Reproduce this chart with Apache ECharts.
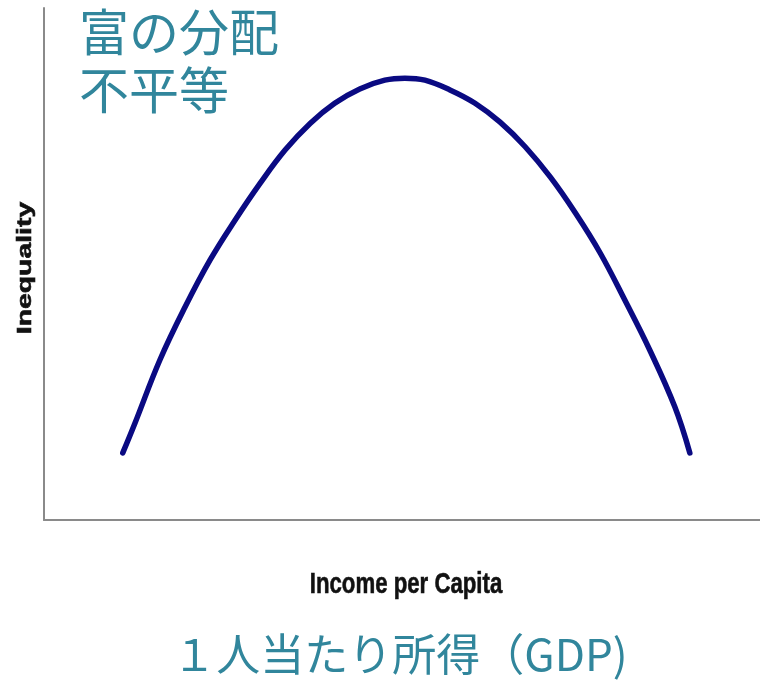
<!DOCTYPE html>
<html>
<head>
<meta charset="utf-8">
<script src="https://cdn.jsdelivr.net/npm/echarts@6/dist/echarts.min.js"></script>
<style>
  html, body { margin: 0; padding: 0; background: #fff; }
  #chart { width: 760px; height: 682px; }
</style>
</head>
<body>
<div id="chart"></div>
<script>
// Kuznets curve (x: income 0-100, y: inequality 0-100)
const incomeX = [11.0, 12.7, 16.2, 19.7, 23.2, 26.7, 30.2, 33.7, 37.2, 40.6, 44.1, 47.6, 50.4,
                 53.2, 56.7, 60.2, 63.7, 67.2, 70.7, 74.2, 77.7, 81.1, 84.6, 88.1, 90.2];
const inequalityY = [13.1, 18.9, 31.3, 41.6, 50.8, 58.6, 65.8, 72.3, 77.5, 81.4, 84.2, 85.9, 86.3,
                     85.9, 84.0, 81.4, 77.7, 72.9, 67.0, 60.0, 52.1, 43.0, 33.2, 22.1, 13.1];

const titleJa = ['富の分配', '不平等'];
const xNameJa = '１人当たり所得（GDP)';
const xName = 'Income per Capita';
const yName = 'Inequality';

const teal = '#31869c';
const cjk = '"Noto Sans CJK JP", "Noto Sans CJK SC", sans-serif';

const chart = echarts.init(document.getElementById('chart'));
const points = incomeX.map((x, i) => [x, inequalityY[i]]);

chart.setOption({
  animation: false,
  backgroundColor: '#fff',
  grid: { left: 44, right: 0, top: 8, bottom: 162 },
  xAxis: {
    type: 'value', min: 0, max: 100,
    axisLine: { show: true, lineStyle: { color: '#8a8a8a', width: 2 } },
    axisTick: { show: false }, axisLabel: { show: false }, splitLine: { show: false }
  },
  yAxis: {
    type: 'value', min: 0, max: 100,
    axisLine: { show: true, lineStyle: { color: '#8a8a8a', width: 2 } },
    axisTick: { show: false }, axisLabel: { show: false }, splitLine: { show: false }
  },
  series: [{
    type: 'line',
    data: points,
    smooth: 0.4,
    symbol: 'none',
    lineStyle: { color: '#0a0a82', width: 5.5, cap: 'round' }
  }],
  graphic: [
    {
      type: 'text', left: 79, top: 3,
      style: { text: titleJa.join('\n'), fill: teal, font: '50px ' + cjk, lineHeight: 58 }
    },
    {
      type: 'text', x: 406, y: 585,
      scaleX: 0.74,
      style: { text: xName, fill: '#111', stroke: '#111', lineWidth: 0.6, font: 'bold 30px "Liberation Sans", Arial, sans-serif', align: 'center', verticalAlign: 'middle' }
    },
    {
      type: 'text', x: 25, y: 268, rotation: Math.PI / 2,
      scaleX: 1.35,
      style: { text: yName, fill: '#111', stroke: '#111', lineWidth: 0.6, font: 'bold 21px "Liberation Sans", Arial, sans-serif', align: 'center', verticalAlign: 'middle' }
    },
    {
      type: 'text', x: 400, y: 654,
      style: { text: xNameJa, fill: teal, font: '44px ' + cjk, align: 'center', verticalAlign: 'middle' }
    }
  ]
});
</script>
</body>
</html>
